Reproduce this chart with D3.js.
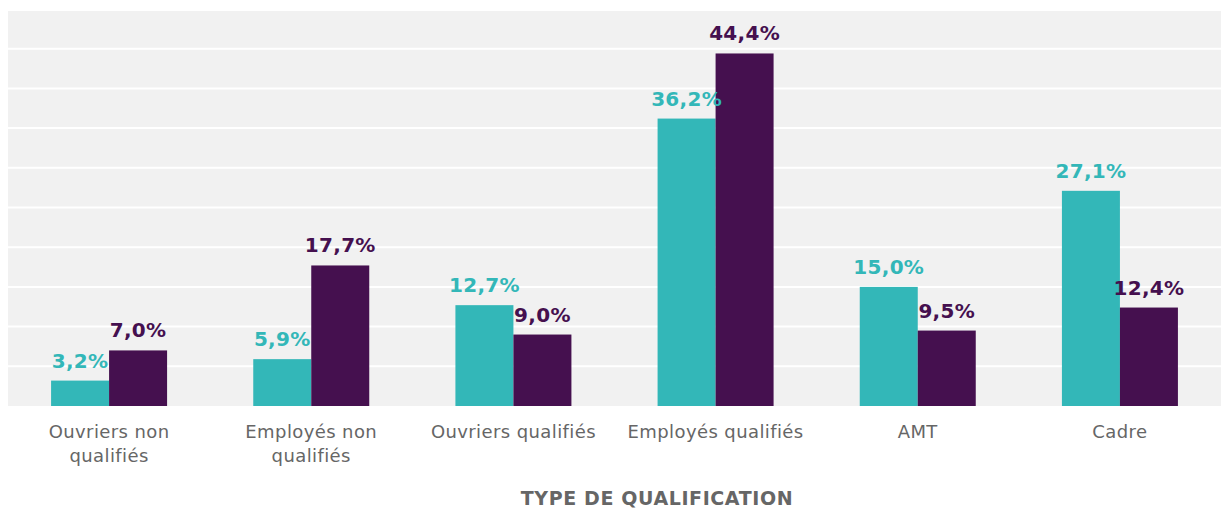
<!DOCTYPE html>
<html lang="fr">
<head>
    <meta charset="UTF-8">
    <title>Type de qualification</title>
    <style>
        body{ margin:0; background:#fff; }
        .cat text{ font: 18px "DejaVu Sans", Verdana, sans-serif; fill:#666; letter-spacing:0.4px; }
        .val{ font: bold 20px "DejaVu Sans", Verdana, sans-serif; letter-spacing:0.3px; }
        .title{ font: bold 19px "DejaVu Sans", Verdana, sans-serif; fill:#666; letter-spacing:0.6px; }
    </style>
</head>
<body>
    <svg width="1221" height="509"></svg>
    <script src="https://d3js.org/d3.v7.min.js"></script>
    <script>
        var categories = [["Ouvriers non", "qualifiés"], ["Employés non", "qualifiés"], ["Ouvriers qualifiés"], ["Employés qualifiés"], ["AMT"], ["Cadre"]];
        var series1 = [3.2, 5.9, 12.7, 36.2, 15.0, 27.1];
        var series2 = [7.0, 17.7, 9.0, 44.4, 9.5, 12.4];
        var yTicks = [0, 5, 10, 15, 20, 25, 30, 35, 40, 45, 50];
        var colors = ["#33b7b8", "#45104f"];

        var svg = d3.select("svg"),
            margin = {top: 9, right: 0, bottom: 103, left: 8},
            width = +svg.attr("width") - margin.left - margin.right,
            height = +svg.attr("height") - margin.top - margin.bottom;

        var x = d3.scaleBand().domain(d3.range(categories.length)).range([0, width]).paddingInner(0).paddingOuter(0);
        var y = d3.scaleLinear().domain([0, 50]).range([height, 0]);
        var barW = 58;

        var g = svg.append("g")
            .attr("transform", "translate(" + margin.left + "," + margin.top + ")");

        g.append("rect")
            .attr("x", 0).attr("y", y(50) + 2)
            .attr("width", width).attr("height", height - y(50) - 2)
            .attr("fill", "#f1f1f1");

        g.selectAll(".grid")
            .data(yTicks.slice(1, -1))
            .enter().append("line")
            .attr("x1", 0).attr("x2", width)
            .attr("y1", function(d){ return y(d); })
            .attr("y2", function(d){ return y(d); })
            .attr("stroke", "#fff").attr("stroke-width", 2);

        var data = categories.map(function(c, i){ return {i: i, vals: [series1[i], series2[i]]}; });

        var grp = g.selectAll(".grp")
            .data(data)
            .enter().append("g")
            .attr("transform", function(d){ return "translate(" + (x(d.i) + x.bandwidth() / 2 - barW) + ",0)"; });

        grp.selectAll("rect")
            .data(function(d){ return d.vals; })
            .enter().append("rect")
            .attr("x", function(d, j){ return j * barW; })
            .attr("y", function(d){ return y(d); })
            .attr("width", barW)
            .attr("height", function(d){ return height - y(d); })
            .attr("fill", function(d, j){ return colors[j]; });

        grp.selectAll("text")
            .data(function(d){ return d.vals; })
            .enter().append("text")
            .attr("class", "val")
            .attr("x", function(d, j){ return j * barW + barW / 2; })
            .attr("y", function(d){ return y(d) - 13; })
            .attr("text-anchor", "middle")
            .attr("fill", function(d, j){ return colors[j]; })
            .text(function(d){ return d.toFixed(1).replace(".", ",") + "%"; });

        var cat = g.append("g").attr("class", "cat");
        cat.selectAll("text")
            .data(data)
            .enter().append("text")
            .attr("text-anchor", "middle")
            .attr("x", function(d){ return x(d.i) + x.bandwidth() / 2; })
            .attr("y", height + 32)
            .each(function(d){
                var t = d3.select(this);
                categories[d.i].forEach(function(line, k){
                    t.append("tspan")
                        .attr("x", x(d.i) + x.bandwidth() / 2)
                        .attr("dy", k === 0 ? 0 : 24)
                        .text(line);
                });
            });

        svg.append("text")
            .attr("class", "title")
            .attr("x", 657)
            .attr("y", 505)
            .attr("text-anchor", "middle")
            .text("TYPE DE QUALIFICATION");
    </script>
</body>
</html>
